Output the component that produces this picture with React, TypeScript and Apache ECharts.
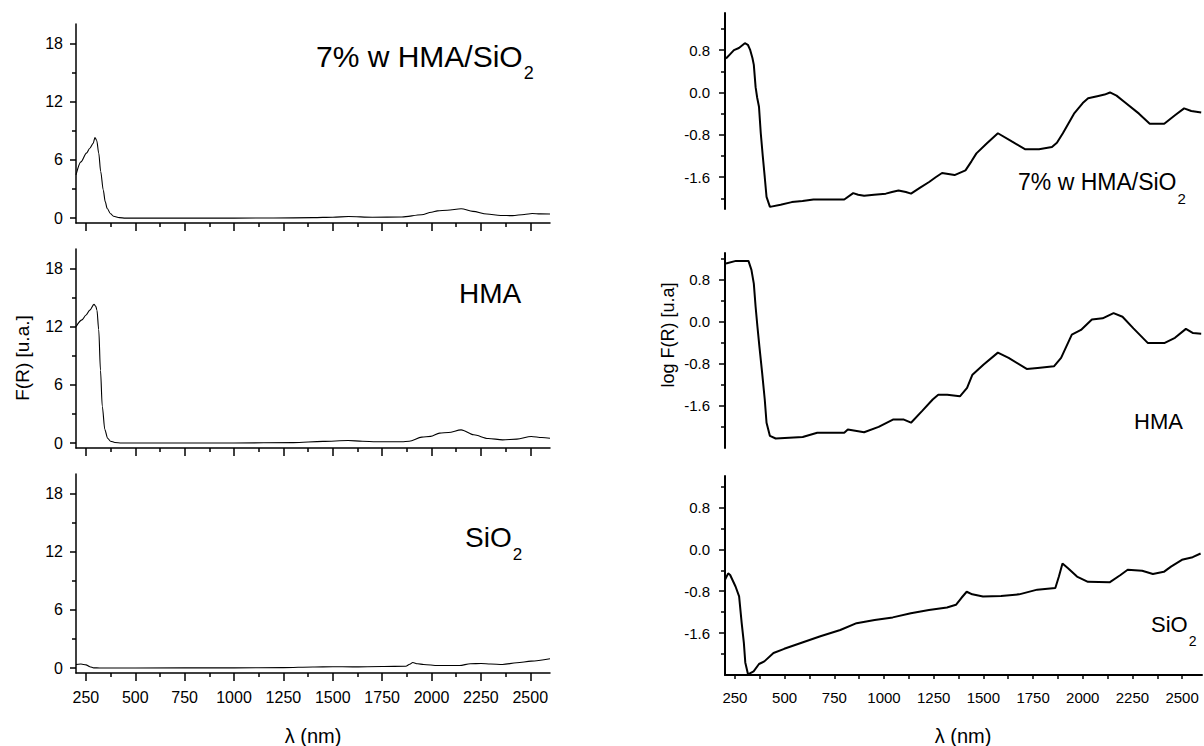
import React, { useEffect, useRef } from "react";
import * as echarts from "echarts";

// ---------- DATA ----------
// Left column: F(R) [u.a.]
const hmaSiO2LinX = [200, 225, 253, 270, 287, 296, 305, 315, 325, 338, 348, 358, 375, 390, 420, 450, 800, 1200, 1400, 1500, 1580, 1700, 1850, 1950, 2000, 2030, 2080, 2150, 2210, 2280, 2350, 2410, 2470, 2510, 2550, 2600];
const hmaSiO2LinY = [4.45, 5.8, 6.7, 7.2, 7.7, 8.3, 8.0, 6.7, 4.8, 2.9, 1.7, 1.0, 0.45, 0.2, 0.05, 0.0, 0.0, 0.01, 0.05, 0.1, 0.17, 0.1, 0.12, 0.35, 0.6, 0.75, 0.82, 0.97, 0.7, 0.42, 0.27, 0.26, 0.38, 0.48, 0.44, 0.42];

const hmaLinX = [200, 230, 251, 270, 291, 300, 306, 315, 324, 333, 346, 360, 375, 397, 430, 1000, 1300, 1450, 1578, 1650, 1720, 1850, 1887, 1951, 1995, 2041, 2086, 2150, 2214, 2287, 2360, 2432, 2505, 2559, 2600];
const hmaLinY = [12.0, 12.7, 13.2, 13.7, 14.3, 14.1, 13.7, 11.7, 7.5, 3.8, 1.4, 0.5, 0.2, 0.07, 0.02, 0.02, 0.05, 0.18, 0.27, 0.2, 0.15, 0.15, 0.2, 0.62, 0.7, 1.03, 1.1, 1.37, 0.86, 0.48, 0.34, 0.41, 0.69, 0.58, 0.51];

const sio2LinX = [200, 225, 251, 270, 290, 320, 500, 1000, 1250, 1400, 1500, 1600, 1750, 1870, 1890, 1905, 1930, 1960, 2033, 2142, 2197, 2251, 2300, 2360, 2432, 2505, 2600];
const sio2LinY = [0.38, 0.42, 0.34, 0.15, 0.03, 0.02, 0.02, 0.03, 0.05, 0.12, 0.15, 0.13, 0.17, 0.2, 0.4, 0.58, 0.45, 0.38, 0.27, 0.27, 0.45, 0.48, 0.42, 0.38, 0.55, 0.72, 0.96];

// Right column: log F(R) [u.a]
const hmaSiO2LogX = [205, 225, 245, 270, 300, 315, 326, 338, 345, 354, 362, 371, 380, 390, 400, 409, 426, 480, 536, 590, 645, 720, 800, 845, 870, 900, 950, 1009, 1040, 1073, 1110, 1136, 1180, 1227, 1260, 1292, 1355, 1410, 1440, 1465, 1518, 1573, 1645, 1709, 1780, 1845, 1870, 1900, 1956, 2000, 2027, 2073, 2110, 2137, 2170, 2210, 2283, 2337, 2410, 2464, 2510, 2546, 2596];
const hmaSiO2LogY = [0.64, 0.72, 0.8, 0.84, 0.93, 0.9, 0.81, 0.65, 0.52, 0.1, -0.1, -0.27, -0.77, -1.2, -1.6, -1.97, -2.16, -2.12, -2.07, -2.05, -2.02, -2.02, -2.02, -1.9, -1.93, -1.95, -1.93, -1.91, -1.88, -1.85, -1.88, -1.91, -1.8, -1.69, -1.6, -1.52, -1.56, -1.47, -1.3, -1.15, -0.96, -0.77, -0.93, -1.07, -1.07, -1.03, -0.95, -0.77, -0.4, -0.2, -0.11, -0.07, -0.04, 0.0, -0.06, -0.18, -0.4, -0.59, -0.59, -0.43, -0.3, -0.35, -0.38];

const hmaLogX = [205, 255, 318, 333, 345, 354, 363, 373, 387, 400, 409, 426, 455, 591, 664, 800, 818, 900, 973, 1045, 1100, 1136, 1191, 1245, 1273, 1318, 1382, 1418, 1445, 1500, 1573, 1627, 1718, 1773, 1855, 1891, 1945, 1991, 2046, 2100, 2155, 2200, 2255, 2328, 2410, 2464, 2519, 2555, 2596];
const hmaLogY = [1.1, 1.15, 1.15, 0.98, 0.72, 0.28, -0.09, -0.47, -0.98, -1.48, -1.92, -2.17, -2.22, -2.19, -2.11, -2.11, -2.05, -2.1, -2.0, -1.86, -1.86, -1.92, -1.7, -1.48, -1.39, -1.39, -1.42, -1.26, -1.01, -0.82, -0.59, -0.69, -0.9, -0.88, -0.85, -0.69, -0.25, -0.16, 0.04, 0.06, 0.16, 0.09, -0.13, -0.41, -0.41, -0.31, -0.14, -0.22, -0.23];

const sio2LogX = [200, 216, 226, 253, 271, 284, 295, 302, 316, 344, 371, 398, 444, 498, 589, 680, 780, 862, 953, 1044, 1135, 1226, 1317, 1362, 1389, 1416, 1444, 1498, 1589, 1680, 1771, 1862, 1880, 1898, 1926, 1971, 2026, 2135, 2190, 2226, 2299, 2353, 2408, 2444, 2499, 2553, 2593];
const sio2LogY = [-0.58, -0.46, -0.49, -0.71, -0.9, -1.41, -1.79, -2.16, -2.39, -2.33, -2.19, -2.14, -1.98, -1.9, -1.78, -1.66, -1.54, -1.41, -1.35, -1.3, -1.22, -1.16, -1.11, -1.06, -0.93, -0.81, -0.86, -0.9, -0.89, -0.86, -0.77, -0.74, -0.52, -0.27, -0.36, -0.52, -0.62, -0.63, -0.49, -0.39, -0.41, -0.47, -0.43, -0.33, -0.2, -0.15, -0.08];

// Ticks
const xMajorTicks = [250, 500, 750, 1000, 1250, 1500, 1750, 2000, 2250, 2500];
const xMinorTicks = [375, 625, 875, 1125, 1375, 1625, 1875, 2125, 2375];
const fMajorTicks = [0, 6, 12, 18];
const fMinorTicks = [3, 9, 15];
const logMajorTicks = [-1.6, -0.8, 0.0, 0.8];
const logMinorTicks = [-2.0, -1.2, -0.4, 0.4, 1.2];

// Labels
const sampleNames = ["7% w HMA/SiO", "HMA", "SiO"];
const sampleSubs = ["2", "", "2"];
const xTitle = "λ (nm)";
const leftYTitle = "F(R) [u.a.]";
const rightYTitle = "log F(R) [u.a]";

// ---------- LAYOUT ----------
const FONT = "'Liberation Sans', Arial, Helvetica, sans-serif";
const X_MIN = 200;
const X_MAX = 2600;

const panels = [
  { x: hmaSiO2LinX, y: hmaSiO2LinY, left: 76, width: 474, top: 24, height: 199, min: -0.5, max: 20, log: false, bottom: false },
  { x: hmaLinX, y: hmaLinY, left: 76, width: 474, top: 249, height: 199, min: -0.5, max: 20, log: false, bottom: false },
  { x: sio2LinX, y: sio2LinY, left: 76, width: 474, top: 474, height: 199, min: -0.5, max: 20, log: false, bottom: true },
  { x: hmaSiO2LogX, y: hmaSiO2LogY, left: 725, width: 477, top: 13, height: 196, min: -2.2, max: 1.5, log: true, bottom: false },
  { x: hmaLogX, y: hmaLogY, left: 725, width: 477, top: 253, height: 195, min: -2.4, max: 1.3, log: true, bottom: false },
  { x: sio2LogX, y: sio2LogY, left: 725, width: 477, top: 476, height: 199, min: -2.4, max: 1.4, log: true, bottom: true },
];

const labelPos = [
  { x: 316, y: 56, size: 30, sub: 18, pad: 34 },
  { x: 459, y: 293, size: 28, sub: 17, pad: 34 },
  { x: 465, y: 537, size: 28, sub: 17, pad: 34 },
  { x: 1018, y: 182, size: 23, sub: 15, pad: 32 },
  { x: 1134, y: 421, size: 22, sub: 14, pad: 32 },
  { x: 1151, y: 624, size: 22, sub: 14, pad: 34 },
];

function buildOption() {
  const grid: any[] = [];
  const xAxis: any[] = [];
  const yAxis: any[] = [];
  const series: any[] = [];
  const graphic: any[] = [];

  panels.forEach((p, g) => {
    grid.push({ left: p.left, top: p.top, width: p.width, height: p.height, containLabel: false });
    const lw = p.log ? 2 : 1.5;
    const showX = !p.log || p.bottom;

    xAxis.push({
      type: "value",
      gridIndex: g,
      min: X_MIN,
      max: X_MAX,
      position: "bottom",
      show: showX,
      axisLine: { show: true, onZero: false, lineStyle: { color: "#000", width: lw } },
      axisTick: {
        show: true,
        inside: false,
        length: p.log ? 4 : 8,
        customValues: xMajorTicks,
        lineStyle: { color: "#000", width: 1.5 },
      },
      axisLabel: {
        show: p.bottom,
        customValues: xMajorTicks,
        color: "#000",
        fontSize: p.log ? 15 : 16,
        fontFamily: FONT,
        margin: p.log ? 15 : 16,
        formatter: (v: number) => String(Math.round(v)),
      },
      splitLine: { show: false },
    });
    xAxis.push({
      type: "value",
      gridIndex: g,
      min: X_MIN,
      max: X_MAX,
      position: "top",
      offset: -p.height,
      show: showX,
      axisLine: { show: false, onZero: false },
      axisTick: {
        show: true,
        inside: true,
        length: 4,
        customValues: xMinorTicks,
        lineStyle: { color: "#000", width: 1.5 },
      },
      axisLabel: { show: false },
      splitLine: { show: false },
    });

    const major = p.log ? logMajorTicks : fMajorTicks;
    const minor = p.log ? logMinorTicks : fMinorTicks;
    yAxis.push({
      type: "value",
      gridIndex: g,
      min: p.min,
      max: p.max,
      position: "left",
      axisLine: { show: true, onZero: false, lineStyle: { color: "#000", width: lw } },
      axisTick: {
        show: true,
        inside: false,
        length: 6,
        customValues: major,
        lineStyle: { color: "#000", width: 1.5 },
      },
      axisLabel: {
        show: true,
        customValues: major,
        color: "#000",
        fontSize: p.log ? 15 : 16,
        fontFamily: FONT,
        margin: p.log ? 15 : 13,
        formatter: (v: number) => (p.log ? v.toFixed(1) : String(Math.round(v))),
      },
      splitLine: { show: false },
    });
    yAxis.push({
      type: "value",
      gridIndex: g,
      min: p.min,
      max: p.max,
      position: "right",
      offset: -p.width,
      axisLine: { show: false, onZero: false },
      axisTick: {
        show: true,
        inside: true,
        length: 4,
        customValues: minor,
        lineStyle: { color: "#000", width: 1.5 },
      },
      axisLabel: { show: false },
      splitLine: { show: false },
    });

    series.push({
      type: "line",
      xAxisIndex: 2 * g,
      yAxisIndex: 2 * g,
      data: p.x.map((v, i) => [v, p.y[i]]),
      symbol: "none",
      showSymbol: false,
      smooth: p.log ? false : 0.3,
      smoothMonotone: "x",
      clip: true,
      silent: true,
      lineStyle: { color: "#000", width: p.log ? 2 : 1.1 },
    });

    const lp = labelPos[g];
    const name = sampleNames[g % 3];
    const sub = sampleSubs[g % 3];
    graphic.push({
      type: "text",
      x: lp.x,
      y: lp.y,
      silent: true,
      style: {
        text: sub ? `{m|${name}}{s|${sub}}` : `{m|${name}}`,
        align: "left",
        textAlign: "left",
        verticalAlign: "middle",
        textVerticalAlign: "middle",
        rich: {
          m: { fontSize: lp.size, fontFamily: FONT, fill: "#000", verticalAlign: "middle" },
          s: { fontSize: lp.sub, fontFamily: FONT, fill: "#000", verticalAlign: "middle", padding: [lp.pad, 0, 0, 1] },
        },
      },
    });
  });

  const titleStyle = (text: string, size: number) => ({
    text,
    fontSize: size,
    fontFamily: FONT,
    fill: "#000",
    align: "center",
    textAlign: "center",
    verticalAlign: "middle",
    textVerticalAlign: "middle",
  });
  graphic.push({ type: "text", x: 313, y: 736, silent: true, style: titleStyle(xTitle, 20) });
  graphic.push({ type: "text", x: 963, y: 736, silent: true, style: titleStyle(xTitle, 20) });
  graphic.push({ type: "text", x: 22, y: 358, rotation: Math.PI / 2, silent: true, style: titleStyle(leftYTitle, 19) });
  graphic.push({ type: "text", x: 668, y: 335, rotation: Math.PI / 2, silent: true, style: titleStyle(rightYTitle, 18) });

  return {
    animation: false,
    backgroundColor: "#fff",
    grid,
    xAxis,
    yAxis,
    series,
    graphic,
  };
}

export default function App() {
  const ref = useRef<HTMLDivElement>(null);
  useEffect(() => {
    if (!ref.current) return;
    const chart = echarts.init(ref.current, undefined, { renderer: "svg" });
    chart.setOption(buildOption() as any);
    return () => chart.dispose();
  }, []);
  return (
    <div
      ref={ref}
      style={{ position: "absolute", left: 0, top: 0, width: 1204, height: 746, background: "#fff" }}
    />
  );
}
